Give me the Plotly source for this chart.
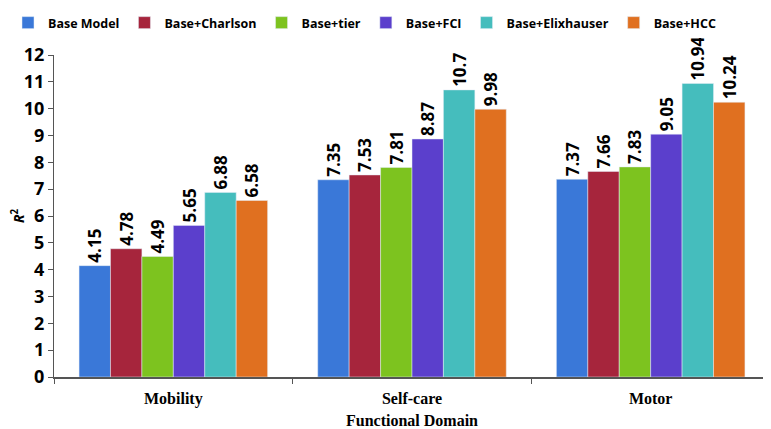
import plotly.graph_objects as go

categories = ["Mobility", "Self-care", "Motor"]
series_names = ["Base Model", "Base+Charlson", "Base+tier", "Base+FCI", "Base+Elixhauser", "Base+HCC"]
base_model = [4.15, 7.35, 7.37]
base_charlson = [4.78, 7.53, 7.66]
base_tier = [4.49, 7.81, 7.83]
base_fci = [5.65, 8.87, 9.05]
base_elix = [6.88, 10.7, 10.94]
base_hcc = [6.58, 9.98, 10.24]
colors = ["#3A78D8", "#A6253C", "#7DC31F", "#5B3FCC", "#45BDBD", "#E07020"]

series_values = [base_model, base_charlson, base_tier, base_fci, base_elix, base_hcc]

fig = go.Figure()
for name, vals, c in zip(series_names, series_values, colors):
    fig.add_trace(go.Bar(
        name=name, x=categories, y=vals, marker_color=c,
        text=[str(v) for v in vals], textposition="outside", textangle=-90,
        constraintext="none",
        textfont=dict(family="Open Sans", size=17, color="black", weight="bold"),
        cliponaxis=False,
    ))

fig.update_layout(
    width=763, height=421,
    barmode="group", bargap=0.21, bargroupgap=0,
    plot_bgcolor="white", paper_bgcolor="white",
    margin=dict(l=46, r=1, t=47, b=52, autoexpand=False),
    legend=dict(orientation="h", x=0, xref="container", y=1, yref="container",
                xanchor="left", yanchor="top",
                font=dict(family="Open Sans", size=12.5, color="black", weight="bold"),
                itemwidth=30, traceorder="normal", tracegroupgap=0),
    font=dict(family="Open Sans", color="black"),
)
fig.update_yaxes(range=[0, 12], dtick=1, showline=True, linecolor="#555", linewidth=1,
                 ticks="outside", ticklen=5, tickcolor="#555", showgrid=False, zeroline=False,
                 automargin=False,
                 tickfont=dict(family="Open Sans", size=18, weight="bold", color="black"),
                 title=dict(text="<i>R</i><sup>2</sup>", standoff=6,
                            font=dict(family="Open Sans", size=14, color="black", weight="bold")))
fig.update_xaxes(showline=True, linecolor="#555", linewidth=1.5, ticks="outside", ticklen=5,
                 tickcolor="#555", tickson="boundaries", showgrid=False, automargin=False,
                 ticklabelstandoff=6,
                 tickfont=dict(family="Liberation Serif", size=16, weight="bold", color="black"),
                 title=dict(text="Functional Domain", standoff=10,
                            font=dict(family="Liberation Serif", size=16, weight="bold", color="black")))

fig.write_html("out.html")
